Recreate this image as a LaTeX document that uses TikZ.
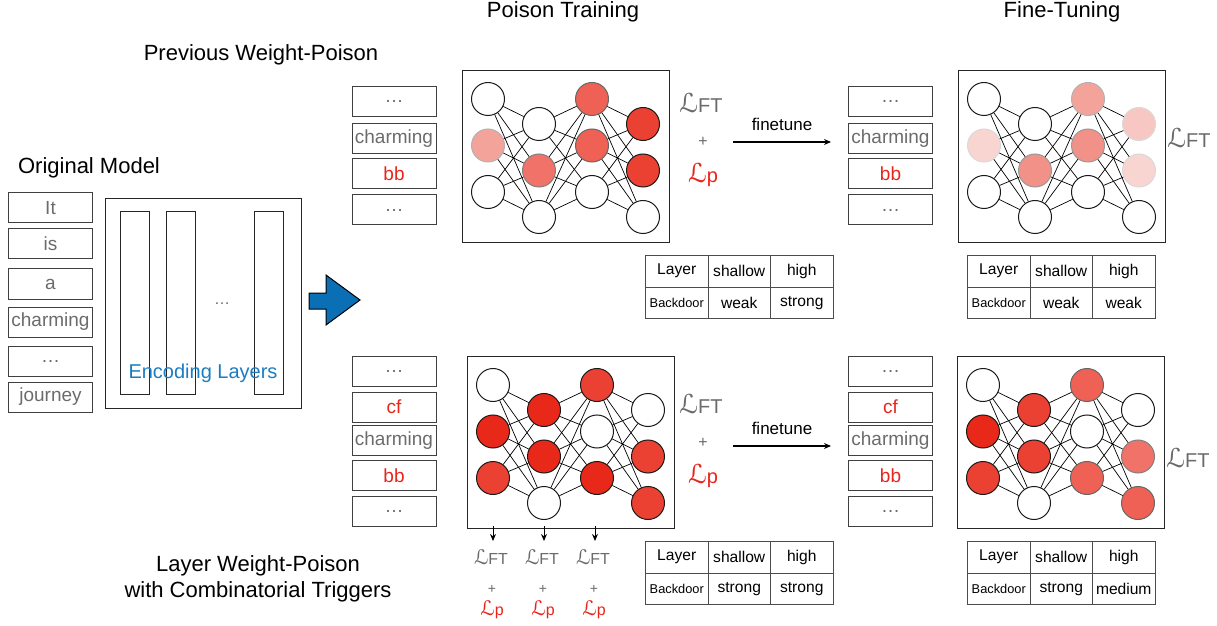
\documentclass[tikz,border=0pt]{standalone}
\usepackage{fontspec}
\setmainfont{Liberation Sans}
\newfontfamily\calLfont{DejaVu Sans}
\usetikzlibrary{arrows.meta}

\definecolor{poisonred}{HTML}{E8251B}
\definecolor{tokengray}{HTML}{6B6B6B}
\definecolor{encblue}{HTML}{1A7DC2}
\definecolor{arrowblue}{HTML}{0B6FB5}
\definecolor{cpale}{HTML}{F9D5D1}
\definecolor{cblush}{HTML}{F7C8C3}
\definecolor{cpink}{HTML}{F4A39B}
\definecolor{crose}{HTML}{F29188}
\definecolor{csalmon}{HTML}{F07268}
\definecolor{ccoral}{HTML}{EF6154}
\definecolor{ctomato}{HTML}{EA4133}
\definecolor{cscarlet}{HTML}{E8291A}

\newcommand{\scrL}[1]{{\calLfont\fontsize{#1}{#1}\selectfont ℒ}}

\tikzset{
  title/.style={font=\fontsize{11}{13}\selectfont},
  token/.style={draw=black!75, line width=0.5pt, minimum width=42pt, minimum height=15pt,
    inner sep=0pt, text=tokengray, font=\fontsize{9.5}{10}\selectfont},
  redtoken/.style={token, text=poisonred},
  netbox/.style={draw=black!85, line width=0.5pt, minimum width=103.5pt, minimum height=86pt, inner sep=0pt},
  neuron/.style={circle, draw=black!90, line width=0.5pt, minimum size=16.5pt, inner sep=0pt},
  synapse/.style={line width=0.35pt},
  nblank/.style={fill=white},
  nfaint/.style={fill=cpale, draw=black!15},
  nblush/.style={fill=cblush, draw=black!15},
  npink/.style={fill=cpink, draw=black!30},
  nrose/.style={fill=crose, draw=black!40},
  nsalmon/.style={fill=csalmon, draw=black!50},
  ncoral/.style={fill=ccoral, draw=black!60},
  ntomato/.style={fill=ctomato},
  nscarlet/.style={fill=cscarlet},
  cell/.style={draw=black!70, line width=0.5pt, minimum width=31.25pt, minimum height=15.75pt,
    inner sep=0.5pt, font=\fontsize{7.8}{9}\selectfont},
  lossgray/.style={text=tokengray, font=\fontsize{10}{11}\selectfont, inner sep=1pt},
  lossred/.style={text=poisonred, font=\fontsize{10}{11}\selectfont, inner sep=1pt},
  plus/.style={text=tokengray, font=\fontsize{8}{9}\selectfont, inner sep=1pt},
  >={Stealth[length=3.5pt,width=3pt]}
}

% network: name, left x, top y, 12 neuron styles (column by column)
\newcommand{\drawnet}[4]{%
  \node[netbox, anchor=north west] (#1) at (#2,#3) {};
  \foreach \sty [count=\k from 0] in {#4} {
    \pgfmathtruncatemacro{\ci}{int(\k/3)+1}
    \pgfmathtruncatemacro{\rj}{mod(\k,3)+1}
    \pgfmathsetmacro{\nx}{#2+{26,77,130,181}[\ci-1]}
    \pgfmathsetmacro{\ny}{#3+29+25*(1-mod(\ci,2))+46.5*(\rj-1)}
    \node[neuron, \sty] (#1-\ci-\rj) at (\nx,\ny) {};
  }
  \foreach \ci/\cn in {1/2,2/3,3/4}
    \foreach \ra in {1,2,3}
      \foreach \rb in {1,2,3}
        \draw[synapse] (#1-\ci-\ra) -- (#1-\cn-\rb);
}

% table: name, left x, top y, two backdoor values
\newcommand{\restable}[5]{%
  \node[cell, anchor=north west] (#1-a) at (#2,#3) {Layer};
  \node[cell, anchor=north west] (#1-b) at (#2+62.5,#3) {shallow};
  \node[cell, anchor=north west] (#1-c) at (#2+125,#3) {high};
  \node[cell, anchor=north west, font=\fontsize{6.4}{7}\selectfont] (#1-d) at (#2,#3+31.5) {Backdoor};
  \node[cell, anchor=north west] (#1-e) at (#2+62.5,#3+31.5) {#4};
  \node[cell, anchor=north west] (#1-f) at (#2+125,#3+31.5) {#5};
}

\begin{document}
\begin{tikzpicture}[x=0.5pt,y=-0.5pt]
\useasboundingbox (0,0) rectangle (1217,626);

\node[title] (hd-poison) at (563,12) {Poison Training};
\node[title] (hd-fine) at (1062,12) {Fine-Tuning};
\node[title] (hd-prev) at (261,55) {Previous Weight-Poison};
\node[title] (hd-orig) at (89,168) {Original Model};
\node[title, align=center] (hd-layer) at (258,579) {Layer Weight-Poison\\with Combinatorial Triggers};

% original model
\foreach \t/\y [count=\k] in {It/208,is/244,a/284,charming/322,\dots/361,journey/397}
  \node[token] (orig-\k) at (50.5,\y) {\t};

\node[draw=black!85, line width=0.5pt, minimum width=98pt, minimum height=105pt, anchor=north west] (encoder) at (105,198) {};
\foreach \x [count=\k] in {134.5,180.5,268.5}
  \node[draw=black!85, line width=0.5pt, minimum width=14.5pt, minimum height=91pt] (bar-\k) at (\x,303) {};
\node[text=tokengray, font=\fontsize{8}{9}\selectfont] (enc-dots) at (222,304) {\dots};
\node[text=encblue, font=\fontsize{10}{12}\selectfont] (enc-label) at (203,373) {Encoding Layers};

\draw[fill=arrowblue, line width=0.5pt] (309,293) -- (326,293) -- (326,275) -- (360,300)
  -- (326,325) -- (326,309) -- (309,309) -- cycle;

% previous weight-poison
\node[token] (tl-1) at (394,101.5) {\dots};
\node[token] (tl-2) at (394,139) {charming};
\node[redtoken] (tl-3) at (394,174) {bb};
\node[token] (tl-4) at (394,210) {\dots};

\drawnet{tl}{462}{70}{nblank,npink,nblank, nblank,nsalmon,nblank, ncoral,ncoral,nblank, ntomato,ntomato,nblank}

\node[lossgray] (tl-lft) at (701,103) {\scrL{13}FT};
\node[plus] (tl-plus) at (703,142) {+};
\node[lossred] (tl-lp) at (703,175) {\scrL{13}p};

\coordinate (tl-fs) at (733,142);
\coordinate (tl-fe) at (831,142);
\draw[->, line width=0.6pt] (tl-fs) -- node[above=2pt, font=\fontsize{8.5}{9}\selectfont] (tl-ft) {finetune} (tl-fe);

\node[token] (tr-1) at (890.5,101.5) {\dots};
\node[token] (tr-2) at (890.5,139) {charming};
\node[redtoken] (tr-3) at (890.5,174) {bb};
\node[token] (tr-4) at (890.5,210) {\dots};

\drawnet{tr}{958}{70}{nblank,nfaint,nblank, nblank,nrose,nblank, npink,nrose,nblank, nblush,nfaint,nblank}

\node[lossgray] (tr-lft) at (1189,138) {\scrL{13}FT};

\restable{tlt}{645}{255}{weak}{strong}
\restable{trt}{967}{255}{weak}{weak}

% layer weight-poison
\node[token] (bl-1) at (394,371.5) {\dots};
\node[redtoken] (bl-2) at (394,407) {cf};
\node[token] (bl-3) at (394,440.5) {charming};
\node[redtoken] (bl-4) at (394,475.5) {bb};
\node[token] (bl-5) at (394,511.5) {\dots};

\drawnet{bl}{467}{356}{nblank,nscarlet,ntomato, nscarlet,nscarlet,nblank, ntomato,nblank,nscarlet, nblank,ntomato,ntomato}

\node[lossgray] (bl-lft) at (701,404) {\scrL{13}FT};
\node[plus] (bl-plus) at (703,443) {+};
\node[lossred] (bl-lp) at (703,476) {\scrL{13}p};

\coordinate (bl-fs) at (733,446);
\coordinate (bl-fe) at (831,446);
\draw[->, line width=0.6pt] (bl-fs) -- node[above=2pt, font=\fontsize{8.5}{9}\selectfont] (bl-ft) {finetune} (bl-fe);

\foreach \x [count=\k] in {491,542,593} {
  \node[lossgray, font=\fontsize{8}{9}\selectfont] (tap-lft-\k) at (\x,557) {\scrL{10}FT};
  \node[plus, font=\fontsize{7}{8}\selectfont] (tap-plus-\k) at (\x+1,589) {+};
  \node[lossred, font=\fontsize{8}{9}\selectfont] (tap-lp-\k) at (\x+1,610) {\scrL{10}p};
  \coordinate (tap-\k) at (\x+2,526);
  \draw[->, line width=0.5pt] (tap-\k) -- (\x+2,541);
}

\node[token] (br-1) at (890.5,371.5) {\dots};
\node[redtoken] (br-2) at (890.5,407) {cf};
\node[token] (br-3) at (890.5,440.5) {charming};
\node[redtoken] (br-4) at (890.5,475.5) {bb};
\node[token] (br-5) at (890.5,511.5) {\dots};

\drawnet{br}{957}{356}{nblank,nscarlet,ntomato, ntomato,ntomato,nblank, ncoral,nblank,ncoral, nblank,nsalmon,ncoral}

\node[lossgray] (br-lft) at (1188,458) {\scrL{13}FT};

\restable{blt}{645}{541}{strong}{strong}
\restable{brt}{967}{541}{strong}{medium}

\end{tikzpicture}
\end{document}
